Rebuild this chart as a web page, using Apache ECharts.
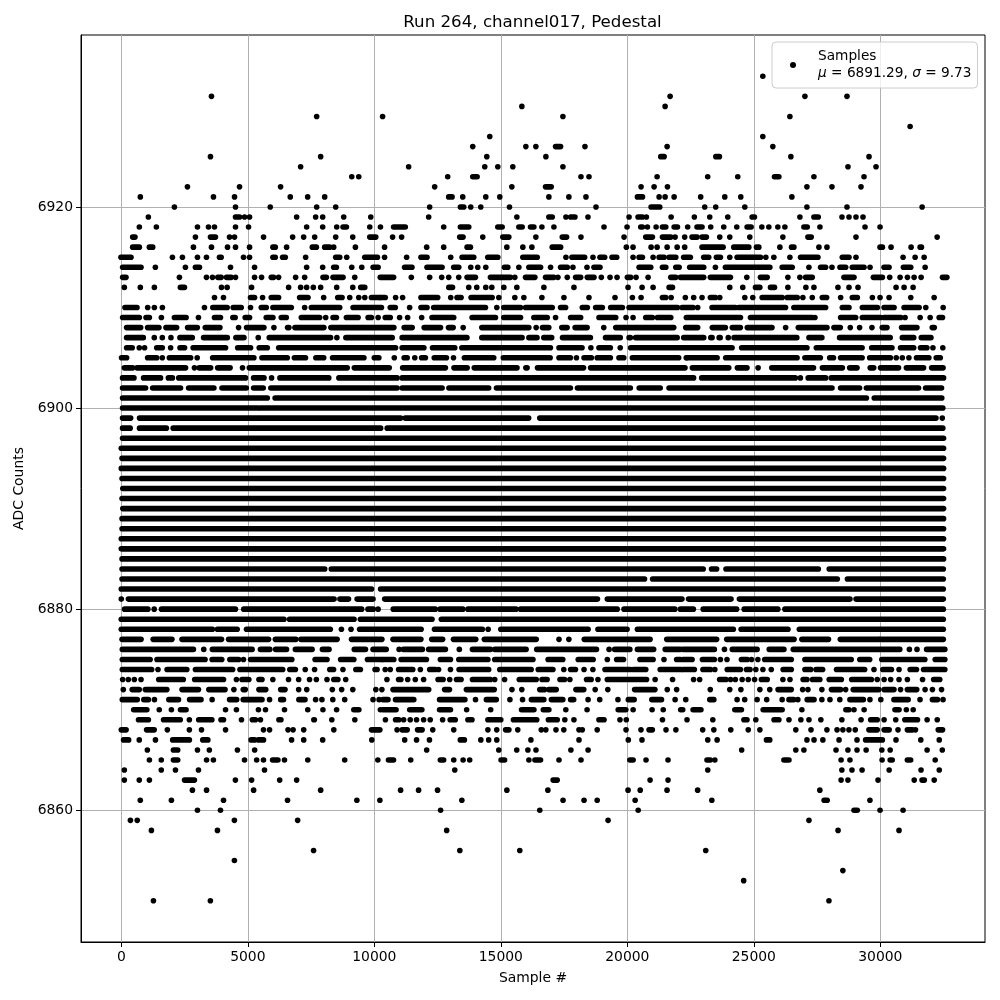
<!DOCTYPE html>
<html><head><meta charset="utf-8">
<style>html,body{margin:0;padding:0;background:#fff}#c{width:1000px;height:1000px}</style>
<script src="https://cdn.jsdelivr.net/npm/echarts@6/dist/echarts.min.js"></script>
</head><body><div id="c"></div>
<script>
// Each level list: a number is a single sample; a pair is a stretch of touching samples.
const r6933=[25356];
const r6931=[3564,21692,27020,28683];
const r6930=[15832,21494];
const r6929=[7722,10328,17455,26426];
const r6928=[31178];
const r6927=[14564,25356];
const r6926=[13891,15990,16386,[17165,17363],18326,21574,25752];
const r6925=[3524,7880,14446,16782,[21323,21455],[23500,23640],26465,29554];
const r6924=[7088,11357,14366,14881,15475,17455,28722,29831];
const r6923=[9108,9385,12901,[13891,14063],18168,18485,21178,23178,24366,[25818,25990],27376,29356];
const r6922=[2614,4673,6296,12386,15436,[16769,16993],20544,21059,21587,27099,28089,29237];
const r6921=[752,3643,4475,6679,7366,8039,[12940,13073],13495,14406,14960,16900,17690,18366,[20400,20600],21257,21494,21850,22900,23852,24485,26505];
const r6920=[2099,4514,5887,7722,8474,12188,[13403,13535],13812,14208,15343,18762,[20940,21283],23060,23495,24644,27099,28683,31653];
const r6919=[1069,[4514,4673],4871,5069,6930,7682,7960,8791,9860,12149,15634,[16900,17033],17574,[17760,17930],18445,20069,[20425,20600],20755,21732,22650,23258,23970,[24934,25026],26822,[27376,27548],28485,28762,29039,29316];
const r6918=[713,1386,3010,3445,3683,4514,5029,7326,7960,8514,[8765,8897],9821,10243,[10763,11225],12743,[13403,13733],[14881,15053],[15713,15845],[16175,16307],16624,17099,19079,19990,[20531,20597],20795,21138,[21389,21521],[21851,21983],22386,[22756,22954],23297,23812,24327,[24736,24894],25317,25594,25950,26228,[26980,27112],27614,29396,29990];
const r6917=[[449,541],2930,[3524,3722],4277,4475,5623,6772,7207,7643,8474,9148,[9821,10058],10723,11080,[13376,13508],14287,[15079,15317],16386,[17429,17600],18168,19871,[20729,20993],[21389,21719],21890,22268,[22558,22756],[22954,23126],23654,24050,24842,26148,[27138,27270],29039,32247];
const r6916=[[449,713],[1109,1241],2851,3564,4198,4514,5069,[5993,6085],6534,[7550,7709],[8039,8237],8395,9253,10406,12070,12743,[13667,13799],15238,15871,16228,[17033,17363],19963,20227,20940,21178,21574,21970,22268,[22954,23786],[24208,24802],[25106,25198],26030,[26492,26584],27574,27891,[29990,30082],30425,31217,[31574,31626]];
const r6915=[[-13,383],2020,2416,3010,3366,[3881,3947],4831,5069,[5993,6085],[6376,6481],7286,[8474,8633],8910,[9623,10124],10406,11278,[11845,12083],13020,[13469,13931],[14485,14881],[15871,16439],17574,[17812,18313],18643,[18920,19105],[19396,19581],20227,[20465,20597],21019,[21257,21455],[21653,21917],[22228,22492],[23020,23218],[23522,23680],24050,[24340,25264],25475,25792,26426,[26848,27534],[28498,28762],29039,30900,31376,31732];
const r6914=[[53,779],1346,2534,[2930,3089],4316,5267,7326,7960,[8395,8501],9108,9504,[9953,10151],[11198,11488],[12083,12677],[13139,13337],13812,14089,14406,[15145,15277],15713,[16109,16571],16967,[17363,17627],17851,18406,[18683,18920],[20465,20927],[21389,21521],[21917,22049],[22466,23020],23482,[23878,25634],[26122,26518],27178,[27640,27838],28089,[28406,28630],[28894,29356],29594,[30148,30346],[30914,31204],31772];
const r6913=[[53,185],2297,3366,3604,[3815,3947],[4158,4343],4514,5267,5544,[5927,6019],6217,6890,7247,[7973,8105],[8369,8765],9227,[10235,10763],11462,12188,12664,12941,13337,[13667,13997],[14591,15383],15554,[15977,16346],[16769,17099],17257,17627,[17957,18155],[18419,18683],18973,19317,19594,[20003,20135],20346,20821,[21719,21917],[22100,23020],[23284,24076],24723,[25264,25528],26346,26822,[27046,27310],[28564,28960],[29726,30082],30372,30782,31072,31336,31613,[32458,32630]];
const r6912=[119,752,1307,[2336,2495],3960,4184,5148,6613,7088,7326,7590,7880,8514,9148,[9464,9623],[12945,13090],13733,14050,14406,14644,15119,15634,16703,17891,20029,20584,21019,[21653,21785],24050,24564,[25066,25238],[25660,25818],26346,27059,27376,28326,28762,29118,30623,30940,31296];
const r6911=[3683,4039,[5108,5267],5584,[5927,6217],[7049,7379],7999,[8554,8725],9029,9385,9623,[9887,10217],[10235,10433],10842,11119,[11845,12505],13020,[13271,13429],[13825,14657],14921,15554,15911,16624,17495,18485,19514,20201,20544,[21389,21521],21732,22294,22624,22954,[23284,23482],23654,24644,24960,[25330,26122],[26320,26716],26940,27310,[27706,27878],28432,[28894,29092],29686,29990,30346,31204,32128];
const r6910=[[145,620],1043,1307,1624,3287,[3617,4184],[4422,4739],5108,[5531,5729],[5993,6719],7247,[7511,8633],[9161,10283],[10631,10829],11396,[11845,12083],[12347,14393],14842,[15119,15779],[15977,17033],[17363,17561],[18221,18419],[18749,19013],[19343,19805],[20069,21983],[22166,22598],22782,[23350,24274],[24406,26254],[26584,27838],[28498,28762],[29290,29884],[30148,30544],[30940,31534],31798,32484];
const r6909=[[53,713],[977,1109],1584,[2099,2561],3049,[3683,3920],[4409,4501],[4897,5069],[5729,5993],[6323,6521],[7115,7841],8079,[8369,8501],[8897,9359],[9755,9887],10151,[10433,10631],11000,11317,11872,[12281,13139],[13865,14789],[15119,15779],[16307,16835],17165,[17760,18155],[18881,19541],19950,20227,[20729,20993],[21191,21719],[22334,24472],[24868,27310],27416,[28432,29026],[29290,30016],[30148,30808],30980,31574,31970,[32326,32458]];
const r6908=[[210,765],[1040,1488],[1765,2186],[2621,3003],[3319,3898],4636,[4952,5637],6032,[6572,6624],[6862,8007],[8284,10773],[11181,11497],[11971,12617],[12933,13117],13512,[14250,16107],16397,[16647,16897],[17411,17621],[17937,18411],19070,[19544,21836],[22310,22781],[23360,23874],[24150,24467],[24743,25718],26258,[26758,27891],[28168,28418],28813,29182,29669,[30077,30262],[30841,31447],[32053,32132]];
const r6907=[[210,870],1304,1620,1962,[2318,2805],[3253,4188],[4530,4846],5413,[5848,8271],8521,[8877,10707],[11100,13660],[14250,15840],[16110,16430],[16700,17010],[17440,18540],[19140,19720],[20070,20120],[20330,21970],[22230,22760],[22830,23020],[23300,23350],[23630,23670],23990,[24220,26700],[27180,27690],[28390,30390],[30870,31320],[31620,32000]];
const r6906=[[210,430],710,920,[1400,1620],1950,[2320,2500],[2840,4120],[4600,5110],[5450,5770],[6220,10840],[11100,11960],[12300,13180],[13460,16960],[17300,18210],18560,[18880,19330],19720,[20130,24140],[24520,27100],[27470,29280],[29660,30460],[30800,31320],[31590,31840],32080,32470];
const r6905=[[10,210],[1040,1400],1620,[1900,2740],3000,[3610,5240],[5560,6560],[6840,7280],[7690,8000],[8350,9590],[10000,10180],10790,[11180,11300],11600,[11870,12020],[12370,12850],13130,[13560,14720],[15100,16950],[17300,17750],17990,[18290,18580],[18810,19330],[19670,19860],[20200,22030],22330,[22370,23550],[23890,26710],[27020,27630],[28000,28150],[28430,29280],[29580,30400],30630,30870,31130,[31430,31920],[32210,32370]];
const r6904=[[120,450],[620,2540],2890,[3080,3530],[3810,4300],4790,[5060,8930],[9210,10590],[11120,12810],[13150,13670],[13950,15640],[15990,16040],[16450,18270],[18550,22280],[22570,24010],[24350,24730],25170,[25710,27360],[27710,28500],[28790,29080],[29600,29740],[30010,30720],[31030,31710],[32030,32480]];
const r6903=[[50,500],[880,1550],[1860,2020],[2270,4910],[5230,5640],5940,[6270,8200],[8600,10900],[11100,22620],[22940,26640],26840,[27150,27840],[28060,32500]];
const r6902=[[50,960],[1240,2340],[2660,3660],[3980,4940],[5230,5610],[5910,10900],[11100,12680],[12950,14520],[14830,17750],[18030,20120],[20470,21300],[21650,28090],[28430,29180],[29450,31510],[31790,32420]];
const r6901=[[50,5770],[6080,29450],[29760,32430]];
const r6900=[[50,5400],[5500,32470]];
const r6899=[[50,370],[720,11040],[11220,16100],[16540,32200],32450];
const r6898=[[50,350],[720,1780],[2050,10250],[10510,32470]];
const r6897=[[50,32500]];
const r6896=[[0,32500]];
const r6895=[[30,32500]];
const r6894=[[0,32500]];
const r6893=[[30,32500]];
const r6892=[[60,32500]];
const r6891=[[30,32500]];
const r6890=[[60,32500]];
const r6889=[[30,32500]];
const r6888=[[30,32500]];
const r6887=[[0,32500]];
const r6886=[[0,32500]];
const r6885=[[30,32500]];
const r6884=[[30,8040],[8300,23000],[23330,23530],[23900,27550],[27980,32490]];
const r6883=[[30,20680],[21000,28300],[28700,32490]];
const r6882=[[0,9890],[10250,32490]];
const r6881=[0,[280,8410],[8640,8980],[9320,9950],[10410,18820],[19210,22160],[22420,24100],[24430,28800],[29040,32490]];
const r6880=[[130,1050],1300,[1590,4510],[4840,9500],[9750,9960],10150,[10750,12410],[12600,13500],[13700,15600],[15780,19600],[19870,21880],[22100,22610],[23000,24320],[24620,25950],[26230,32490]];
const r6879=[[0,6430],[6650,9200],[9450,12280],[12650,32490]];
const r6878=[[0,3600],[3800,4580],[4950,8260],8700,9080,[9420,11850],[12380,14270],14500,[15000,18450],[18840,19990],[20400,24190],[24500,26350],[26800,32490]];
const r6877=[[30,780],[1260,2000],[2400,3960],[4240,5820],[6090,6900],[7100,8530],[9100,10300],[10740,11840],[12270,12700],[13130,14010],[14350,16400],17300,17690,[18300,20900],[21560,23530],[23930,26590],[26900,27950],[28420,29950],[30000,32490]];
const r6876=[[40,2850],3260,[3600,5170],[5500,5870],[6100,6530],[6880,7540],[7950,8210],[9210,9650],[9950,10270],[10340,10470],10980,[11150,11900],[12150,12810],13360,[13880,14590],[14760,16000],[16420,18780],19280,[19500,20100],[20400,21040],[21500,22100],[22200,23440],23840,[24150,25130],[25610,26190],[26560,30770],31150,31450,[31830,32550]];
const r6875=[[40,1140],[1410,3310],[3590,3970],[4290,4640],4830,[5110,6740],[7660,8130],[8670,9190],[9730,10300],[10340,10770],[11060,12060],[12610,13010],[13340,14490],[14760,16270],[16870,17450],[18060,18650],19210,[19580,19850],[20500,21020],21450,[21950,22100],[22200,22560],[22970,23440],23680,23940,[24510,24740],24910,25160,[25430,26480],[27020,28850],[29190,29580],[30060,31760],[32170,32550]];
const r6874=[[40,1200],1450,[1810,2590],[2930,4400],[4690,6380],[6660,6880],7270,7640,[8240,8390],8760,[9270,9450],[10030,10110],10430,10630,[10960,11520],11820,[12190,12410],12540,13010,[13350,14520],[14960,16200],[16480,17060],17490,[17760,17950],18290,18640,[19120,20120],[20240,20730],[21300,22120],[22200,22650],[22990,23290],23460,[23950,24470],[24710,24850],25080,25360,25690,[26160,26480],[27020,27250],[27460,27720],[28270,29380],29750,[30100,30440],30740,[31180,31430],[31710,32550]];
const r6873=[53,277,515,780,[1480,2450],[2900,4040],4550,[4770,5040],[5440,5560],5990,6610,7010,7440,7710,8130,[8400,8560],8870,10500,[10960,11050],11320,11620,11950,[12520,12720],12980,[13250,13430],[13880,14590],14760,15150,[15730,16400],[16630,16830],[17340,17520],17730,[18390,18570],18840,[19210,20760],21100,21790,22620,22860,[23650,23900],24080,24270,24540,24780,25030,[25300,25530],26150,26430,[26950,27100],[27320,27610],[27980,28460],[28870,29650],29880,30150,30410,30740,31070,31670,[32110,32350]];
const r6872=[80,[430,710],[950,1800],[2400,3050],[3460,4100],4450,[4820,4900],[5440,5710],[6300,6470],7010,7330,8340,8710,9150,10060,10300,[10740,12150],[12780,12970],[13640,14740],15440,15830,[16540,16730],[16900,17190],[17970,18280],18730,19230,[20290,21090],21580,21950,23280,24050,24490,25240,25630,[25960,26480],26930,27140,27690,[28070,28430],28630,[28930,29940],[30150,30540],30800,[31070,31440],31770,32060,32420];
const r6871=[[40,630],[890,1070],1310,[1880,2260],[2700,3150],3590,[4280,4560],[4820,5560],5860,[6300,6410],[7020,7260],7680,7930,8360,8830,9950,10190,[10340,10540],[10840,11560],[12580,13580],14000,[14430,14820],15360,15860,[16210,16700],[17000,17450],[17760,17880],18450,18910,19630,[20040,20270],[20970,21350],21890,22310,[23260,23420],24340,24640,25130,25510,26120,[26390,26580],26740,[27110,27380],27690,28010,28400,[28800,29330],29590,30020,[30540,31100],31570,[32060,32260],32480];
const r6870=[[490,1010],1500,1980,[2340,2560],4120,4550,5420,5700,6450,7370,7970,8510,[9190,9390],10240,[10340,10860],[11400,11880],[12580,13010],13650,14600,[15820,16310],[16680,16900],17570,18410,[19640,19940],20230,20980,21420,22110,22190,[22600,22910],[24250,24510],[25370,26120],26900,[28640,28760],28960,29360,[30580,30740],31030,31300];
const r6869=[[680,1070],[1670,2330],2690,[3060,3580],[3940,4040],4750,[5180,5300],5500,[6230,6310],[7610,7630],8320,9230,10440,[10840,10970],11160,11420,11670,11950,12210,12700,[13000,13200],[13700,13860],[14490,15000],[15500,16420],[16880,17230],17530,17890,[18880,19080],19710,19960,21390,22360,23380,[24610,24730],25080,[25800,25990],26390,26860,27180,27650,28480,29240,[29620,29880],30150,30610,[30970,31470],31850,32250];
const r6868=[[0,190],[1000,1300],1820,2690,3170,4120,5620,5860,6590,6790,7210,8400,[9890,10220],10900,[11100,11300],[11710,11890],12310,13140,14490,14840,[15190,15320],15670,16600,16780,17180,17490,18090,18220,18810,19950,20540,[20860,20990],21530,21920,22980,23420,24090,24780,25240,26660,27260,27890,28290,28520,28760,29010,[29550,29880],[30150,30350],30700,[31070,31270],31390,[32290,32460]];
const r6867=[[90,290],710,1350,[2030,2690],[3220,3420],[5130,5270],[5420,5620],6730,7210,7960,9900,11200,11670,12180,[13400,13560],14210,14520,14840,16190,18090,20040,20580,23180,23550,[25500,25630],27100,27380,27730,28370,29080,[29420,30080],30620,31600,32330];
const r6866=[1030,[2060,2230],3010,3480,4590,5270,12070,14920,15630,16070,16390,17770,18450,24520,26660,26980,28250,28720,29080,29440,30060,30390,31850,32450];
const r6865=[1110,1580,[2060,2230],3370,3640,4870,5350,5620,[5980,6190],6450,7370,8830,10140,[10560,10760],11440,[12610,12740],13140,13510,13770,[15010,15150],16110,[16350,16570],17300,18170,[20100,20230],20740,21610,[23150,23280],23460,[26190,26390],28450,28800,30070,[30390,30470],[31070,31200],32170];
const r6864=[120,1580,2140,3050,5660,13180,23180,28480,28880,29280,30350,31610,32330];
const r6863=[120,710,1110,[2500,2890],4510,5150,6260,6930,[17070,17230],20900,21610,28450,28720,29910,31340,[31650,31740],32130];
const r6862=[2810,3370,5230,7880,11040,11750,12500,15240,16860,20030,20510,21570,22780,27610];
const r6861=[750,1980,4040,6570,9310,10220,13460,17460,18290,18810,20310,23340,[27780,27900],29590];
const r6860=[3010,3920,12620,16540,20430,[28960,29090],29990,30900];
const r6859=[360,630,4470,6970,19240,27180];
const r6858=[1190,3800,12860,28330,30740];
const r6856=[7600,13380,15750,23100];
const r6855=[4470];
const r6854=[28520];
const r6853=[24600];
const r6851=[1270,3520,27970];
const levels=[[6933,r6933],[6931,r6931],[6930,r6930],[6929,r6929],[6928,r6928],[6927,r6927],[6926,r6926],[6925,r6925],[6924,r6924],[6923,r6923],[6922,r6922],[6921,r6921],[6920,r6920],[6919,r6919],[6918,r6918],[6917,r6917],[6916,r6916],[6915,r6915],[6914,r6914],[6913,r6913],[6912,r6912],[6911,r6911],[6910,r6910],[6909,r6909],[6908,r6908],[6907,r6907],[6906,r6906],[6905,r6905],[6904,r6904],[6903,r6903],[6902,r6902],[6901,r6901],[6900,r6900],[6899,r6899],[6898,r6898],[6897,r6897],[6896,r6896],[6895,r6895],[6894,r6894],[6893,r6893],[6892,r6892],[6891,r6891],[6890,r6890],[6889,r6889],[6888,r6888],[6887,r6887],[6886,r6886],[6885,r6885],[6884,r6884],[6883,r6883],[6882,r6882],[6881,r6881],[6880,r6880],[6879,r6879],[6878,r6878],[6877,r6877],[6876,r6876],[6875,r6875],[6874,r6874],[6873,r6873],[6872,r6872],[6871,r6871],[6870,r6870],[6869,r6869],[6868,r6868],[6867,r6867],[6866,r6866],[6865,r6865],[6864,r6864],[6863,r6863],[6862,r6862],[6861,r6861],[6860,r6860],[6859,r6859],[6858,r6858],[6856,r6856],[6855,r6855],[6854,r6854],[6853,r6853],[6851,r6851]];
const xTicks=[0,5000,10000,15000,20000,25000,30000];
const yTicks=[6860,6880,6900,6920];
const titleText='Run 264, channel017, Pedestal';

const dots=[],runs=[];
levels.forEach(([lv,items])=>items.forEach(it=>{
  if(Array.isArray(it)) runs.push([it[0],lv,it[1]]); else dots.push([it,lv]);
}));
const font='"DejaVu Sans"';
const M=5.6;
const axisCommon={
  axisLine:{onZero:false,lineStyle:{color:'#000',width:1}},
  axisTick:{show:true,length:5,lineStyle:{color:'#000',width:1}},
  splitLine:{show:true,lineStyle:{color:'#b0b0b0',width:1}},
  nameLocation:'middle',
  nameTextStyle:{fontFamily:font,fontSize:13.9,color:'#000'}
};
const chart=echarts.init(document.getElementById('c'),null,{renderer:'canvas'});
chart.setOption({
  animation:false,
  backgroundColor:'#fff',
  title:{text:titleText,left:527.5,top:9,textAlign:'center',textStyle:{fontFamily:font,fontSize:16.67,fontWeight:'normal',color:'#000'}},
  grid:{left:81,right:15,top:35,bottom:58,show:true,borderColor:'#000',borderWidth:1,backgroundColor:'transparent'},
  xAxis:Object.assign({},axisCommon,{type:'value',min:-1593,max:34138,name:'Sample #',nameGap:29,
    axisTick:Object.assign({},axisCommon.axisTick,{customValues:xTicks}),
    axisLabel:{customValues:xTicks,fontFamily:font,fontSize:13.9,color:'#000',margin:8,formatter:v=>String(v)}}),
  yAxis:Object.assign({},axisCommon,{type:'value',min:6846.9,max:6937.1,name:'ADC Counts',nameGap:51,
    axisTick:Object.assign({},axisCommon.axisTick,{customValues:yTicks}),
    axisLabel:{customValues:yTicks,fontFamily:font,fontSize:13.9,color:'#000',margin:8,formatter:v=>String(v)}}),
  legend:{show:true,data:[{name:'Samples',icon:'circle',itemStyle:{opacity:1}}],left:772,top:42,orient:'vertical',
    itemWidth:40,itemHeight:6,itemGap:0,padding:[6,6,6,18],
    backgroundColor:'rgba(255,255,255,0.8)',borderColor:'#ccc',borderWidth:1,borderRadius:4,
    formatter:()=>'Samples\n{i|μ} = 6891.29, {i|σ} = 9.73',
    textStyle:{fontFamily:font,fontSize:13.7,color:'#000',lineHeight:17,rich:{i:{fontFamily:font,fontStyle:'italic',fontSize:13.7,color:'#000',lineHeight:17}}}},
  tooltip:{show:false},
  series:[
    {type:'custom',name:'stretches',silent:true,coordinateSystem:'cartesian2d',data:runs,encode:{x:[0,2],y:1},z:3,clip:true,
     renderItem:(p,api)=>{
       const a=api.coord([api.value(0),api.value(1)]),b=api.coord([api.value(2),api.value(1)]);
       return {type:'line',shape:{x1:a[0],y1:a[1],x2:b[0],y2:b[1]},style:{stroke:'#000',lineWidth:M,lineCap:'round',fill:null}};
     }},
    {type:'scatter',name:'Samples',data:dots,symbol:'circle',symbolSize:M,itemStyle:{color:'#000',opacity:1},z:3,silent:true}
  ]
});
</script></body></html>
